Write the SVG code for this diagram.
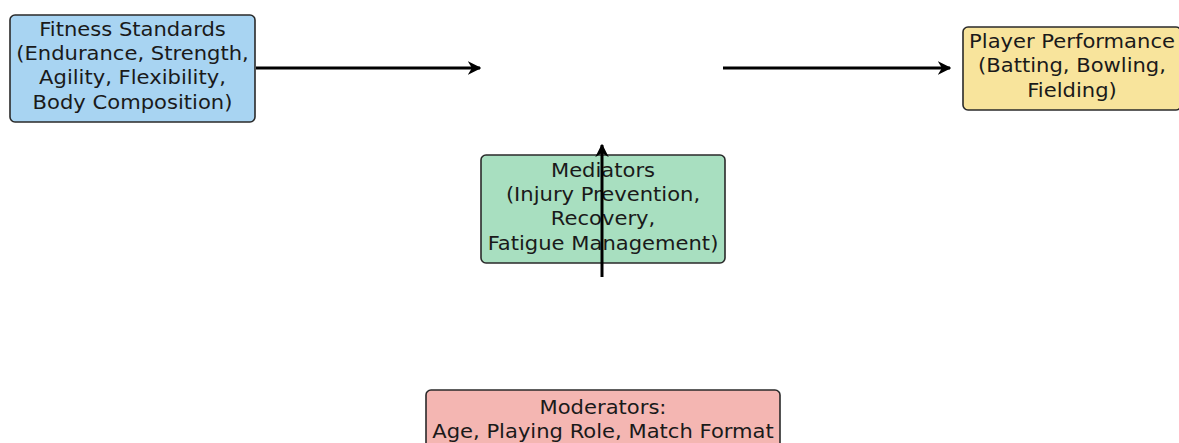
<svg xmlns="http://www.w3.org/2000/svg" width="1179" height="443" viewBox="0 0 1179 443">
<defs>
<style>
.box{stroke:#2a2a2a;stroke-width:1.6}
text{font-family:"DejaVu Sans",sans-serif;font-size:19px;fill:#1a1a1a;text-anchor:middle}
.ln{stroke:#000;stroke-width:3;fill:none}
</style>
<marker id="ah" viewBox="0 0 10 10" refX="9" refY="5" markerWidth="4.5" markerHeight="4.5" orient="auto" markerUnits="strokeWidth">
<path d="M0,0 L10,5 L0,10 L3,5 Z" fill="#000"/>
</marker>
</defs>
<rect width="1179" height="443" fill="#fff"/>
<g id="fitness">
<rect class="box" x="10" y="15" width="245" height="107" rx="5" fill="#a8d4f2"/>
<g transform="translate(132.5 0) scale(1.11 1)">
<text x="0" y="36">Fitness Standards</text>
<text x="0" y="60">(Endurance, Strength,</text>
<text x="0" y="84">Agility, Flexibility,</text>
<text x="0" y="109">Body Composition)</text>
</g>
</g>
<g id="performance">
<rect class="box" x="963" y="27" width="218" height="83" rx="5" fill="#f8e49c"/>
<g transform="translate(1072 0) scale(1.11 1)">
<text x="0" y="48">Player Performance</text>
<text x="0" y="72">(Batting, Bowling,</text>
<text x="0" y="97">Fielding)</text>
</g>
</g>
<g id="mediators">
<rect class="box" x="481" y="155" width="244" height="108" rx="5" fill="#a8dfc0"/>
<g transform="translate(603 0) scale(1.11 1)">
<text x="0" y="177">Mediators</text>
<text x="0" y="201">(Injury Prevention,</text>
<text x="0" y="225">Recovery,</text>
<text x="0" y="250">Fatigue Management)</text>
</g>
</g>
<g id="moderators">
<rect class="box" x="426" y="390" width="354" height="70" rx="5" fill="#f4b6b2"/>
<g transform="translate(603 0) scale(1.11 1)">
<text x="0" y="414">Moderators:</text>
<text x="0" y="438">Age, Playing Role, Match Format</text>
</g>
</g>
<g id="connectors">
<line class="ln" x1="256" y1="68" x2="480" y2="68" marker-end="url(#ah)"/>
<line class="ln" x1="723" y1="68" x2="950" y2="68" marker-end="url(#ah)"/>
<line class="ln" x1="602" y1="277" x2="602" y2="145" marker-end="url(#ah)"/>
</g>
</svg>
